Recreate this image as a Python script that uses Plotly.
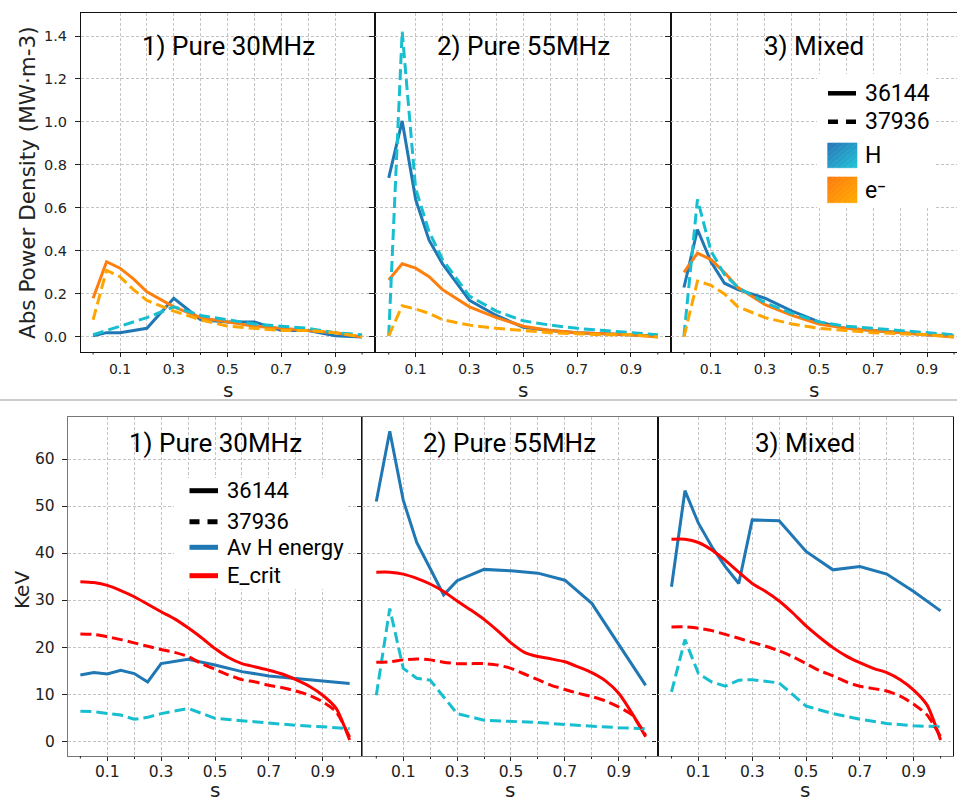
import plotly.graph_objects as go

W, H = 957, 801

# ---------------- data ----------------
s_pow = [0, 0.05, 0.1, 0.15, 0.2, 0.3, 0.4, 0.5, 0.6, 0.7, 0.8, 0.9, 1.0]
s_avh = [0, 0.05, 0.1, 0.15, 0.2, 0.25, 0.3, 0.4, 0.5, 0.6, 0.7, 0.8, 0.9, 1.0]
s_ecr = [0, 0.05, 0.1, 0.15, 0.2, 0.25, 0.3, 0.35, 0.4, 0.45, 0.5,
         0.55, 0.6, 0.65, 0.7, 0.75, 0.8, 0.85, 0.9, 0.95, 1.0]

panel_titles = ["1) Pure 30MHz", "2) Pure 55MHz", "3) Mixed"]
shots = ["36144", "37936"]

# Absorbed power density (MW m^-3): H and e-, shot 36144 (solid) / 37936 (dashed)
pow_H_36144 = [
    [0.005, 0.02, 0.02, 0.03, 0.04, 0.18, 0.08, 0.07, 0.07, 0.03, 0.03, 0.005, 0.0],
    [0.74, 1.005, 0.64, 0.45, 0.34, 0.17, 0.10, 0.045, 0.03, 0.02, 0.015, 0.01, 0.005],
    [0.23, 0.50, 0.35, 0.25, 0.22, 0.18, 0.12, 0.07, 0.04, 0.03, 0.02, 0.01, 0.005],
]
pow_H_37936 = [
    [0.01, 0.03, 0.05, 0.07, 0.09, 0.14, 0.10, 0.08, 0.06, 0.05, 0.04, 0.02, 0.01],
    [0.005, 1.42, 0.69, 0.49, 0.36, 0.19, 0.12, 0.075, 0.055, 0.04, 0.03, 0.02, 0.01],
    [0.005, 0.64, 0.40, 0.29, 0.23, 0.16, 0.11, 0.07, 0.05, 0.04, 0.03, 0.02, 0.01],
]
pow_e_36144 = [
    [0.18, 0.35, 0.32, 0.27, 0.21, 0.14, 0.09, 0.07, 0.05, 0.04, 0.03, 0.02, 0.0],
    [0.265, 0.34, 0.32, 0.28, 0.22, 0.14, 0.09, 0.05, 0.03, 0.02, 0.015, 0.01, 0.0],
    [0.30, 0.39, 0.36, 0.30, 0.23, 0.15, 0.10, 0.06, 0.04, 0.03, 0.02, 0.01, 0.0],
]
pow_e_37936 = [
    [0.08, 0.31, 0.28, 0.22, 0.17, 0.12, 0.08, 0.05, 0.04, 0.03, 0.03, 0.02, 0.0],
    [0.005, 0.145, 0.13, 0.11, 0.08, 0.055, 0.04, 0.03, 0.02, 0.015, 0.01, 0.01, 0.0],
    [0.0, 0.26, 0.24, 0.20, 0.14, 0.09, 0.06, 0.04, 0.03, 0.02, 0.015, 0.01, 0.0],
]

# Energies (keV)
avH_36144 = [
    [14.2, 14.7, 14.4, 15.2, 14.5, 12.7, 16.6, 17.5, 16.3, 14.9, 14.0, 13.5, 13.0, 12.4],
    [51.0, 65.9, 51.3, 42.3, 36.8, 31.2, 34.2, 36.6, 36.3, 35.8, 34.3, 29.4, 20.7, 12.0],
    [32.9, 53.3, 46.4, 41.4, 37.2, 33.6, 47.1, 46.9, 40.4, 36.5, 37.2, 35.6, 31.9, 27.8],
]
avH_37936 = [
    [6.5, 6.4, 6.0, 5.7, 4.8, 5.2, 6.0, 7.1, 5.0, 4.5, 4.0, 3.5, 3.2, 2.8],
    [9.9, 28.3, 15.6, 13.5, 13.1, 9.6, 6.0, 4.6, 4.4, 4.1, 3.7, 3.3, 3.0, 2.8],
    [10.6, 21.7, 14.5, 12.7, 11.8, 13.1, 13.2, 12.5, 7.6, 6.0, 4.8, 3.9, 3.4, 3.2],
]
ecrit_36144 = [
    [34.0, 33.8, 33.2, 32.1, 30.8, 29.2, 27.6, 26.1, 24.2, 22.1, 19.8,
     17.9, 16.6, 15.9, 15.2, 14.4, 13.2, 11.8, 9.9, 7.1, 0.4],
    [36.0, 36.0, 35.6, 34.7, 33.5, 31.9, 29.9, 28.0, 26.0, 23.6, 21.0,
     19.0, 18.1, 17.6, 17.0, 15.9, 14.7, 13.0, 10.3, 6.0, 1.1],
    [43.0, 43.0, 42.3, 40.7, 38.5, 36.0, 33.6, 31.9, 29.9, 27.4, 24.6,
     22.2, 20.0, 18.2, 16.8, 15.6, 14.7, 13.2, 11.0, 7.8, 0.4],
]
ecrit_37936 = [
    [22.9, 22.8, 22.3, 21.7, 21.0, 20.3, 19.6, 19.0, 18.1, 16.6, 15.4,
     14.2, 13.2, 12.7, 12.0, 11.5, 10.8, 9.9, 8.5, 6.4, 1.0],
    [16.9, 17.0, 17.4, 17.6, 17.4, 16.9, 16.6, 16.6, 16.6, 16.3, 15.6,
     14.4, 13.2, 12.0, 11.1, 10.3, 9.6, 8.7, 7.4, 5.7, 1.4],
    [24.4, 24.4, 24.1, 23.6, 22.8, 22.0, 21.1, 20.3, 19.3, 18.1, 16.6,
     15.1, 14.0, 12.7, 11.8, 11.3, 10.8, 9.7, 8.0, 5.7, 1.1],
]

x_major = [0.1, 0.3, 0.5, 0.7, 0.9]
x_minor = [0.2, 0.4, 0.6, 0.8]          # minor ticks with grid lines
x_minor_edge = [0.0, 1.0]               # minor ticks without grid lines
y_top_ticks = [0.0, 0.2, 0.4, 0.6, 0.8, 1.0, 1.2, 1.4]
y_bot_ticks = [0, 10, 20, 30, 40, 50, 60]

# ---------------- styles ----------------
C_H1, C_H2 = "#1f77b4", "#17becf"
C_E1, C_E2 = "#ff7f0e", "#ffa500"
C_EC = "#ff0000"
LW = 3
DASH = "11px,5px"
GRID = "#c4c4c4"
TICKFONT = "DejaVu Sans"
TXTFONT = "Roboto"


def X(p):
    return p / W


def Y(p):
    return 1 - p / H


top_dom = [(81, 375), (375, 671), (671, 957)]
top_xr = [[-0.045, 1.048], [-0.051, 1.049], [-0.048, 1.011]]
top_y = (13, 352)
bot_dom = [(67.7, 362.3), (362.3, 657.5), (657.5, 952.7)]
bot_xr = [[-0.047, 1.047], [-0.052, 1.044], [-0.052, 1.045]]
bot_y = (416.7, 756)

fig = go.Figure()
layout = dict(
    width=W, height=H, margin=dict(l=0, r=0, t=0, b=0, autoexpand=False),
    paper_bgcolor="white", plot_bgcolor="white", showlegend=False,
)
shapes = []
annotations = []


def axis_common(linecolor):
    return dict(showline=True, mirror=True, linecolor=linecolor, linewidth=1.2,
                zeroline=False, ticks="outside", tickcolor="#222", tickwidth=1,
                automargin=False,
                showgrid=True, gridcolor=GRID, griddash="3px,2px", gridwidth=1)


for i in range(3):
    for row in (0, 1):
        n = i + 1 + 3 * row
        xa = "xaxis" if n == 1 else f"xaxis{n}"
        ya = "yaxis" if n == 1 else f"yaxis{n}"
        xs = "x" if n == 1 else f"x{n}"
        ys = "y" if n == 1 else f"y{n}"
        if row == 0:
            dom, xr, yd, fs, yfs = top_dom[i], top_xr[i], top_y, 14, 14.5
            yr, yt = [-0.07, 1.507], y_top_ticks
            ytxt = [f"{v:.1f}" for v in yt]
            xcol = ycol = "#111"
            xstand, ylab_gap = 0, 11.7
        else:
            dom, xr, yd, fs, yfs = bot_dom[i], bot_xr[i], bot_y, 15.5, 15.5
            yr, yt = [-3, 69], y_bot_ticks
            ytxt = [str(v) for v in yt]
            xcol = "#777"
            ycol = "#111" if i > 0 else "#777"
            xstand, ylab_gap = -3, 10.7
        layout[xa] = dict(
            axis_common(xcol), domain=[X(dom[0]), X(dom[1])],
            anchor=ys, range=xr, tickvals=x_major,
            ticktext=[f"{v:.1f}" for v in x_major], ticklen=4, ticklabelstandoff=xstand,
            tickfont=dict(family=TICKFONT, size=fs, color="#222"),
            minor=dict(tickvals=x_minor, ticklen=2, ticks="outside", showgrid=True,
                       gridcolor=GRID, griddash="3px,2px", gridwidth=1, tickcolor="#222"),
        )
        layout[ya] = dict(
            axis_common(ycol), domain=[Y(yd[1]), Y(yd[0])],
            anchor=xs, range=yr, tickvals=yt, ticklen=4.5, showticklabels=False,
        )
        # y tick labels of the first panel in each row, placed at the axis' values
        if i == 0:
            for v, t in zip(yt, ytxt):
                annotations.append(dict(text=t, x=X(dom[0] - ylab_gap), y=v, xref="paper",
                                        yref=ys, showarrow=False, xanchor="right",
                                        yanchor="middle",
                                        font=dict(family=TICKFONT, size=yfs, color="#222")))
        # small edge minor ticks (no grid line)
        for xv in x_minor_edge:
            shapes.append(dict(type="line", xref=xs, yref=f"{ys} domain", x0=xv, x1=xv,
                               ysizemode="pixel", yanchor=0, y0=0, y1=-2.5,
                               line=dict(color="#222", width=1)))

        if row == 0:
            series = [
                (s_pow, pow_H_36144[i], C_H1, "solid", "linear"),
                (s_pow, pow_e_36144[i], C_E1, "solid", "linear"),
                (s_pow, pow_H_37936[i], C_H2, DASH, "linear"),
                (s_pow, pow_e_37936[i], C_E2, DASH, "linear"),
            ]
        else:
            series = [
                (s_avh, avH_36144[i], C_H1, "solid", "linear"),
                (s_ecr, ecrit_36144[i], C_EC, "solid", "spline"),
                (s_avh, avH_37936[i], C_H2, DASH, "linear"),
                (s_ecr, ecrit_37936[i], C_EC, DASH, "spline"),
            ]
        for sx, vals, col, dash, shp in series:
            fig.add_trace(go.Scatter(x=sx, y=vals, mode="lines", xaxis=xs, yaxis=ys,
                                     line=dict(color=col, width=LW, dash=dash, shape=shp,
                                               smoothing=0.6)))

fig.update_layout(**layout)

# panel titles and axis labels
for i in range(3):
    cx = (top_dom[i][0] + top_dom[i][1]) / 2
    cxb = (bot_dom[i][0] + bot_dom[i][1]) / 2
    for xx, yy in ((cx, 46), (cxb, 443)):
        annotations.append(dict(text=panel_titles[i], x=X(xx), y=Y(yy), xref="paper",
                                yref="paper", showarrow=False, xanchor="center",
                                yanchor="middle",
                                font=dict(family=TXTFONT, size=26, color="black")))
    for xx, yy in ((cx, 390), (cxb, 790)):
        annotations.append(dict(text="s", x=X(xx), y=Y(yy), xref="paper", yref="paper",
                                showarrow=False, xanchor="center", yanchor="middle",
                                font=dict(family=TICKFONT, size=20, color="#222")))

annotations.append(dict(text="Abs Power Density (MW·m-3)", x=X(27), y=Y(183), xref="paper",
                        yref="paper", showarrow=False, textangle=-90, xanchor="center",
                        yanchor="middle", font=dict(family=TICKFONT, size=21.5, color="#222")))
annotations.append(dict(text="KeV", x=X(22), y=Y(590), xref="paper", yref="paper",
                        showarrow=False, textangle=-90, xanchor="center", yanchor="middle",
                        font=dict(family=TICKFONT, size=20, color="#222")))

# separator between the two rows
shapes.append(dict(type="line", xref="paper", yref="paper", x0=0, x1=1, y0=Y(400), y1=Y(400),
                   line=dict(color="#bbbbbb", width=1.5)))

# ---- top legend (panel 3) ----
shapes.append(dict(type="rect", xref="paper", yref="paper", x0=X(817), x1=X(934),
                   y0=Y(208), y1=Y(74), fillcolor="white", line=dict(width=0), layer="above"))


def gradient_patch(x0, x1, y0, y1, c_a, c_b, nb=10):
    """square patch with diagonal gradient (upper-left c_a -> lower-right c_b)"""
    def lerp(a, b, t):
        return int(round(a + (b - a) * t))
    ca = [int(c_a[k:k + 2], 16) for k in (1, 3, 5)]
    cb = [int(c_b[k:k + 2], 16) for k in (1, 3, 5)]
    sq = [(0, 0), (1, 0), (1, 1), (0, 1)]

    def clip(poly, f):
        out = []
        for k in range(len(poly)):
            p, q = poly[k], poly[(k + 1) % len(poly)]
            fp, fq = f(p), f(q)
            if fp >= 0:
                out.append(p)
            if (fp >= 0) != (fq >= 0):
                t = fp / (fp - fq)
                out.append((p[0] + t * (q[0] - p[0]), p[1] + t * (q[1] - p[1])))
        return out

    res = []
    for b in range(nb):
        lo, hi = 2 * b / nb, 2 * (b + 1) / nb
        poly = clip(sq, lambda p: p[0] + p[1] - lo)
        poly = clip(poly, lambda p: hi - (p[0] + p[1]))
        if len(poly) < 3:
            continue
        t = (b + 0.5) / nb
        col = "rgb({},{},{})".format(*[lerp(ca[k], cb[k], t) for k in range(3)])
        path = "M " + " L ".join(
            f"{X(x0 + u * (x1 - x0)):.5f},{Y(y0 + v * (y1 - y0)):.5f}" for u, v in poly) + " Z"
        res.append(dict(type="path", xref="paper", yref="paper", path=path,
                        fillcolor=col, line=dict(width=0.6, color=col), layer="above"))
    return res


shapes.append(dict(type="line", xref="paper", yref="paper", x0=X(828), x1=X(856),
                   y0=Y(93.3), y1=Y(93.3), line=dict(color="black", width=4.5), layer="above"))
shapes.append(dict(type="line", xref="paper", yref="paper", x0=X(828), x1=X(856),
                   y0=Y(121.7), y1=Y(121.7), line=dict(color="black", width=4.5, dash="10px,8px"),
                   layer="above"))
shapes += gradient_patch(827.7, 857, 143, 167.7, "#2a74b8", "#22c3d6")
shapes += gradient_patch(827.7, 857, 177, 202.7, "#ff7a10", "#ffab00")

top_leg = [(shots[0], 93.3), (shots[1], 121.7), ("H", 155.3), ("e⁻", 190)]
for txt, yy in top_leg:
    annotations.append(dict(text=txt, x=X(863), y=Y(yy), xref="paper", yref="paper",
                            showarrow=False, xanchor="left", yanchor="middle",
                            font=dict(family=TXTFONT, size=23, color="black")))

# ---- bottom legend (panel 1) ----
shapes.append(dict(type="rect", xref="paper", yref="paper", x0=X(174), x1=X(347),
                   y0=Y(589), y1=Y(478), fillcolor="white", line=dict(width=0), layer="above"))
bot_leg = [(shots[0], 490.7, "black", None), (shots[1], 521.7, "black", "10px,8px"),
           ("Av H energy", 547.3, C_H1, None), ("E_crit", 575.7, C_EC, None)]
for txt, yy, col, dash in bot_leg:
    ln = dict(color=col, width=5)
    if dash:
        ln["dash"] = dash
    shapes.append(dict(type="line", xref="paper", yref="paper", x0=X(189.5), x1=X(218),
                       y0=Y(yy), y1=Y(yy), line=ln, layer="above"))
    annotations.append(dict(text=txt, x=X(225), y=Y(yy), xref="paper", yref="paper",
                            showarrow=False, xanchor="left", yanchor="middle",
                            font=dict(family=TXTFONT, size=22, color="black")))

fig.update_layout(annotations=annotations, shapes=shapes)
fig.write_html("out.html", config={"displayModeBar": False},
               post_script="document.body.style.margin='0';document.body.style.overflow='hidden';")
